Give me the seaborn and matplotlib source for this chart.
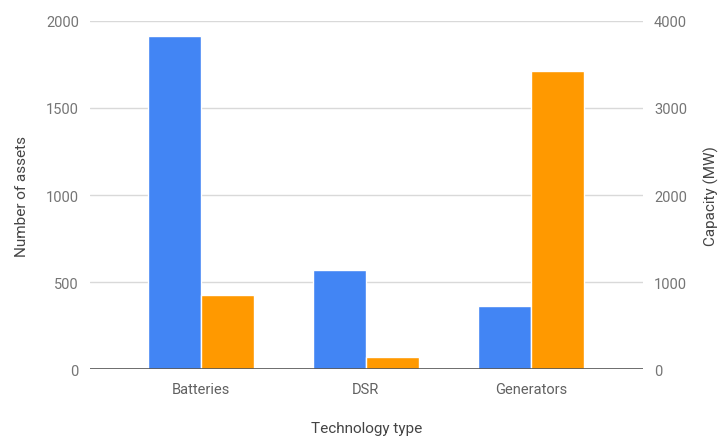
import matplotlib
matplotlib.use("Agg")
import matplotlib.pyplot as plt
import pandas as pd
import seaborn as sns

categories = ["Batteries", "DSR", "Generators"]
assets = [1915, 570, 362]
capacity_mw = [855, 142, 3428]
series = ["Number of assets", "Capacity (MW)"]
colors = {"Number of assets": "#4285f4", "Capacity (MW)": "#ff9900"}

df_assets = pd.DataFrame({"tech": categories, "value": assets, "series": series[0]})
df_cap = pd.DataFrame({"tech": categories, "value": capacity_mw, "series": series[1]})

sns.set_style("white")
plt.rcParams["font.family"] = ["Roboto", "DejaVu Sans"]

fig = plt.figure(figsize=(7.28, 4.39), dpi=100)
ax = fig.add_axes([0.1236, 0.157, 0.7594, 0.793])
ax2 = ax.twinx()

bar_kw = dict(x="tech", y="value", hue="series", hue_order=series, order=categories,
              palette=colors, saturation=1, width=0.645, dodge=True,
              edgecolor="white", linewidth=1, legend=False)
sns.barplot(data=df_assets, ax=ax, **bar_kw)
sns.barplot(data=df_cap, ax=ax2, **bar_kw)

ax.set_xlim(-0.673, 2.68)
ax.set_ylim(0, 2000)
ax2.set_ylim(0, 4000)
ax.set_yticks([0, 500, 1000, 1500, 2000])
ax2.set_yticks([0, 1000, 2000, 3000, 4000])

ax.set_axisbelow(True)
ax.grid(axis="y", color="#d9d9d9", linewidth=1)
ax2.axhline(0, color="#555555", linewidth=1.2, zorder=5)

for a in (ax, ax2):
    for s in a.spines.values():
        s.set_visible(False)
    a.tick_params(axis="both", length=0, labelsize=10.5, labelcolor="#757575")
ax.tick_params(axis="x", pad=9, labelcolor="#616161")
ax.tick_params(axis="y", pad=8)
ax2.tick_params(axis="y", pad=8)

ax.set_xlabel("Technology type", fontsize=11, color="#444444", labelpad=18)
ax.set_ylabel("Number of assets", fontsize=11, color="#444444", labelpad=12)
ax2.set_ylabel("Capacity (MW)", fontsize=11, color="#444444", labelpad=12)

fig.savefig("out.png", dpi=100)
